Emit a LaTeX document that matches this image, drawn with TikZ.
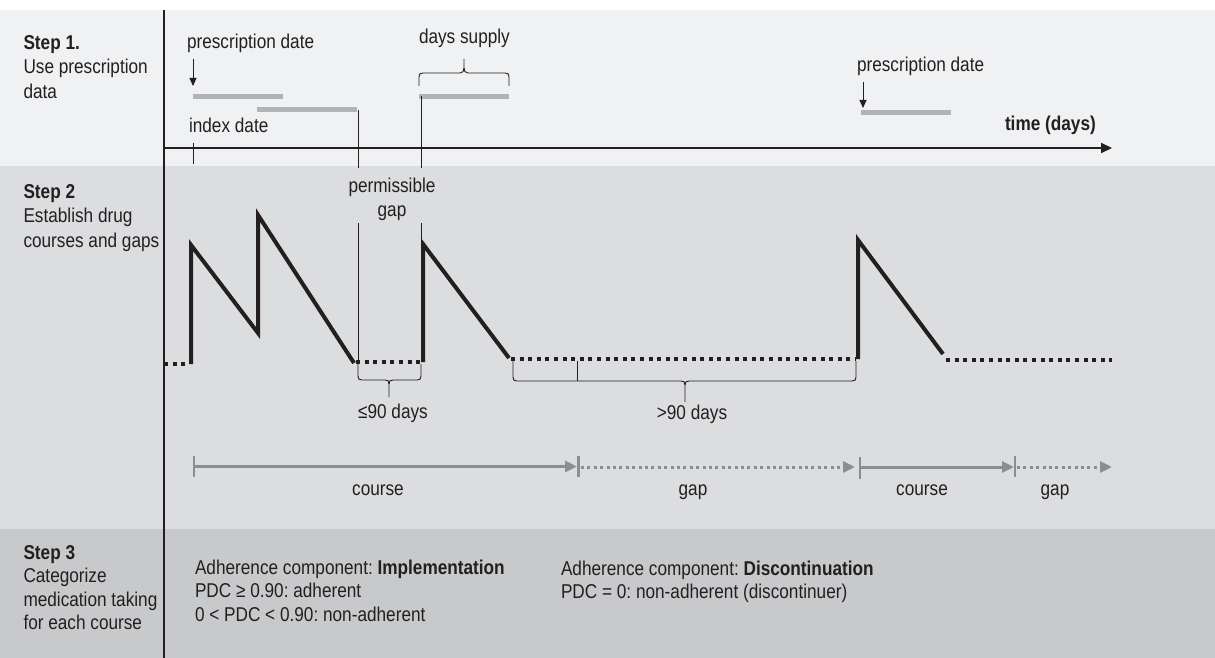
\documentclass[tikz,border=0pt]{standalone}
\usepackage{fontspec}
\setmainfont{Liberation Sans}[FakeStretch=0.86]
\usetikzlibrary{arrows.meta}
\definecolor{bandA}{HTML}{F0F1F2}
\definecolor{bandB}{HTML}{DCDDDF}
\definecolor{bandC}{HTML}{C8C9CB}
\definecolor{ink}{HTML}{231F20}
\definecolor{barc}{HTML}{B2B3B5}
\definecolor{arrc}{HTML}{8C8D8F}
\frenchspacing
\begin{document}
\begin{tikzpicture}[x=1pt,y=-1pt,
  lbl/.style={inner sep=0pt, outer sep=0pt, font=\fontsize{20}{24.5}\selectfont, text=ink},
  lblc/.style={lbl, font=\fontsize{20}{23.5}\selectfont},
  thinline/.style={draw=ink, line width=0.9pt},
  bracestyle/.style={draw=ink, line width=0.9pt},
  supplybar/.style={draw=barc, line width=5pt},
  saw/.style={draw=ink, line width=4pt},
  sawdots/.style={draw=ink, line width=4pt, dash pattern=on 4pt off 4.6pt},
  courseline/.style={draw=arrc, line width=3pt, -{Triangle[length=12pt,width=11pt]}},
  gapline/.style={draw=arrc, line width=3pt, dash pattern=on 3pt off 3.4pt, -{Triangle[length=12pt,width=11pt]}},
  tickmark/.style={draw=arrc, line width=2.5pt},
  pdarrow/.style={draw=ink, line width=1pt, -{Triangle[length=8pt,width=7pt]}}
]
\useasboundingbox (0,0) rectangle (1215,658);
% bands
\fill[white] (0,0) rectangle (1215,10);
\fill[bandA] (0,10) rectangle (1215,166);
\fill[bandB] (0,166) rectangle (1215,529);
\fill[bandC] (0,529) rectangle (1215,658);
\coordinate (divT) at (164,10);
\coordinate (divB) at (164,658);
\draw[ink, line width=1.3pt] (divT) -- (divB);

% step labels
\node[lbl, anchor=north west, align=left] (s1) at (23.5,35.4) {\textbf{Step 1.}\\Use prescription\\data};
\node[lbl, anchor=north west, align=left] (s2) at (23.5,184.4) {\textbf{Step 2}\\Establish drug\\courses and gaps};
\node[lblc, anchor=north west, align=left] (s3) at (23.5,545.4) {\textbf{Step 3}\\Categorize\\medication taking\\for each course};

% time axis
\coordinate (ax0) at (164,148);
\coordinate (ax1) at (1112,148);
\draw[ink, line width=2pt, -{Triangle[length=11pt,width=10pt]}] (ax0) -- (ax1);
\node[lbl, anchor=base west] (time) at (1005,131) {\textbf{time (days)}};

% step 1 prescriptions
\node[lbl, anchor=base west] (pd1) at (187,49) {prescription date};
\coordinate (pd1a) at (193,59); \coordinate (pd1b) at (193,86);
\draw[pdarrow] (pd1a) -- (pd1b);
\coordinate (b1a) at (193,96.5); \coordinate (b1b) at (283,96.5);
\draw[supplybar] (b1a) -- (b1b);
\coordinate (b2a) at (257,110); \coordinate (b2b) at (357,110);
\draw[supplybar] (b2a) -- (b2b);
\coordinate (b3a) at (419,96.5); \coordinate (b3b) at (509,96.5);
\draw[supplybar] (b3a) -- (b3b);
\node[lbl, anchor=base west] (pd2) at (857,72) {prescription date};
\coordinate (pd2a) at (863,82); \coordinate (pd2b) at (863,108);
\draw[pdarrow] (pd2a) -- (pd2b);
\coordinate (b4a) at (861,113); \coordinate (b4b) at (951,113);
\draw[supplybar] (b4a) -- (b4b);

\node[lbl, anchor=base west] (idx) at (189,133) {index date};
\draw[thinline] (193,143) -- (193,164);
\draw[thinline] (358,110) -- (358,168);
\draw[thinline] (421,96.5) -- (421,168);

% days supply brace
\node[lbl, anchor=base west] (ds) at (419,44) {days supply};
\draw[bracestyle] (419,86) -- (419,77) .. controls (419,74) and (420,73) .. (423,73) -- (460,73) .. controls (463,73) and (464,71) .. (464,68) -- (464,59);
\draw[bracestyle] (509,86) -- (509,77) .. controls (509,74) and (508,73) .. (505,73) -- (468,73) .. controls (465,73) and (464,71) .. (464,68);

% step 2
\node[lbl, anchor=north, align=center] (pg) at (392,177.7) {permissible\\gap};
\draw[thinline] (358,223) -- (358,362);
\draw[thinline] (421.5,223) -- (421.5,362);

\draw[sawdots] (164,364) -- (189,364);
\draw[saw] (191,364) -- (191,245) -- (258,333) -- (258,215) -- (354,363);
\draw[sawdots] (356,362) -- (421,362);
\draw[saw] (423,362) -- (423,244) -- (509,358);
\draw[sawdots] (511,359) -- (856,359);
\draw[saw] (858,359) -- (858,240) -- (943,354);
\draw[sawdots] (946,360) -- (1112,360);

% <=90 brace
\draw[bracestyle] (358,364) -- (358,376) .. controls (358,379) and (359,380) .. (362,380) -- (385,380) .. controls (388,380) and (389,381) .. (389,384) -- (389,397);
\draw[bracestyle] (421,364) -- (421,376) .. controls (421,379) and (420,380) .. (417,380) -- (393,380) .. controls (390,380) and (389,381) .. (389,384);
\node[lbl, anchor=base] (le90) at (393,418) {≤90 days};

% >90 brace
\draw[bracestyle] (513,361) -- (513,377) .. controls (513,380) and (514,381) .. (517,381) -- (681,381) .. controls (684,381) and (685,382) .. (685,385) -- (685,402);
\draw[bracestyle] (856,361) -- (856,377) .. controls (856,380) and (855,381) .. (852,381) -- (689,381) .. controls (686,381) and (685,382) .. (685,385);
\draw[thinline] (577,361) -- (577,381);
\node[lbl, anchor=base] (gt90) at (692,419) {>90 days};

% course / gap arrows
\coordinate (c1a) at (194,466.5); \coordinate (c1b) at (577,466.5);
\coordinate (g1a) at (581,467); \coordinate (g1b) at (855,467);
\coordinate (c2a) at (860,467); \coordinate (c2b) at (1014,467);
\coordinate (g2a) at (1017,467); \coordinate (g2b) at (1112,467);
\draw[courseline] (c1a) -- (c1b);
\draw[gapline] (g1a) -- (g1b);
\draw[courseline] (c2a) -- (c2b);
\draw[gapline] (g2a) -- (g2b);
\draw[tickmark] (194,456) -- (194,477);
\draw[tickmark] (578.5,456) -- (578.5,477);
\draw[tickmark] (860,457) -- (860,479);
\draw[tickmark] (1015,456) -- (1015,477);
\node[lbl, anchor=base] (cl1) at (378,495) {course};
\node[lbl, anchor=base] (gl1) at (693,495) {gap};
\node[lbl, anchor=base] (cl2) at (922,495) {course};
\node[lbl, anchor=base] (gl2) at (1055,495) {gap};

% step 3 texts
\node[lblc, anchor=north west, align=left] (impl) at (195,559.7) {Adherence component: \textbf{Implementation}\\PDC ≥ 0.90: adherent\\0 < PDC < 0.90: non-adherent};
\node[lblc, anchor=north west, align=left] (disc) at (561,560.7) {Adherence component: \textbf{Discontinuation}\\PDC = 0: non-adherent (discontinuer)};
\end{tikzpicture}
\end{document}
